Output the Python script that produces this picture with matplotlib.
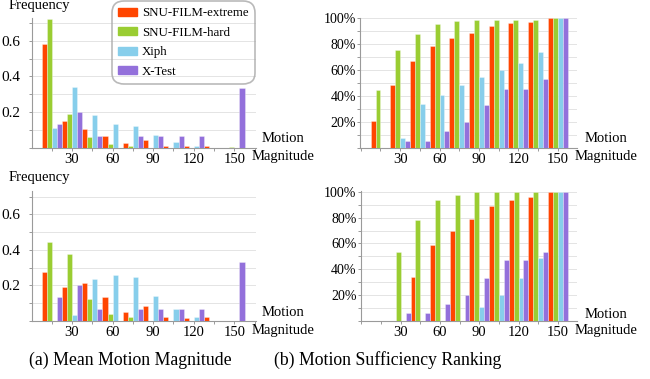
import numpy as np
import matplotlib
matplotlib.use("Agg")
import matplotlib.pyplot as plt
from matplotlib.ticker import MultipleLocator, FuncFormatter

plt.rcParams["font.family"] = ["Liberation Serif", "DejaVu Serif"]

# ---- data
MAG = [15, 30, 45, 60, 75, 90, 105, 120, 135, 150]
SERIES = ["SNU-FILM-extreme", "SNU-FILM-hard", "Xiph", "X-Test"]
COLORS = ["#ff4500", "#9acd32", "#87ceeb", "#9370db"]

# (a) mean motion magnitude, top row
freq_top_ext = [0.58, 0.15, 0.105, 0.067, 0.024, 0.041, 0.011, 0.007, 0.011, 0.0]
freq_top_hard = [0.72, 0.187, 0.062, 0.02, 0.011, 0.0, 0.0, 0.0, 0.0, 0.004]
freq_top_xiph = [0.112, 0.338, 0.183, 0.133, 0.121, 0.071, 0.032, 0.009, 0.0, 0.0]
freq_top_xtest = [0.133, 0.2, 0.065, 0.0, 0.065, 0.065, 0.065, 0.065, 0.0, 0.333]

# (a) mean motion magnitude, bottom row
freq_bot_ext = [0.276, 0.188, 0.21, 0.135, 0.05, 0.083, 0.02, 0.013, 0.02, 0.0]
freq_bot_hard = [0.444, 0.374, 0.12, 0.038, 0.019, 0.0, 0.0, 0.0, 0.0, 0.0]
freq_bot_xiph = [0.0, 0.03, 0.235, 0.26, 0.246, 0.141, 0.066, 0.02, 0.0, 0.0]
freq_bot_xtest = [0.133, 0.2, 0.066, 0.0, 0.066, 0.066, 0.066, 0.066, 0.0, 0.333]

# (b) motion sufficiency ranking [%], top row
rank_top_ext = [21, 49, 67, 79, 85, 89, 94, 96.5, 97.5, 100]
rank_top_hard = [45, 76, 88, 96, 98, 99, 99, 99, 99, 100]
rank_top_xiph = [0, 8, 34, 41, 49, 55, 60, 66, 74, 100]
rank_top_xtest = [0, 6, 6, 13, 20, 33, 46, 46, 53, 100]

# (b) motion sufficiency ranking [%], bottom row
rank_bot_ext = [0, 0, 34, 58.5, 70, 78.7, 89, 93.5, 96, 100]
rank_bot_hard = [0, 53.5, 78, 94, 97.5, 100, 100, 100, 100, 100]
rank_bot_xiph = [0, 0, 0, 0, 0, 11, 20, 33, 49, 100]
rank_bot_xtest = [0, 6.2, 6, 13, 20, 33, 47, 47, 53.5, 100]

W, H = 650, 379
fig = plt.figure(figsize=(W / 100, H / 100), dpi=100)


def px_axes(left, right, top, bottom):
    """Axes from pixel box (origin top-left)."""
    return fig.add_axes([left / W, 1 - bottom / H, (right - left) / W, (bottom - top) / H])


def draw(ax, series, xlim, ylim, major_y, pct):
    x = np.array(MAG, dtype=float)
    w = 15 / 4
    for i, vals in enumerate(series):
        ax.bar(x + (i - 1.5) * w, vals, w, color=COLORS[i],
               edgecolor=(1, 1, 1, 0.35), linewidth=0.6, zorder=3)
    ax.set_xlim(*xlim)
    ax.set_ylim(*ylim)
    ax.xaxis.set_major_locator(MultipleLocator(30))
    ax.xaxis.set_minor_locator(MultipleLocator(15))
    ax.yaxis.set_major_locator(MultipleLocator(major_y))
    ax.yaxis.set_minor_locator(MultipleLocator(major_y / 2))
    if pct:
        ax.yaxis.set_major_formatter(FuncFormatter(lambda v, p: "" if v <= 0 else f"{v:.0f}%"))
    else:
        ax.yaxis.set_major_formatter(FuncFormatter(lambda v, p: "" if v <= 0 else f"{v:.1f}"))
    ax.xaxis.set_major_formatter(FuncFormatter(lambda v, p: "" if v <= 0 else f"{v:.0f}"))
    ax.grid(True, which="both", axis="y", color="#e4e4e4", lw=0.7, zorder=0)
    for s in ("top", "right"):
        ax.spines[s].set_visible(False)
    for s in ("left", "bottom"):
        ax.spines[s].set_color("#9a9a9a")
        ax.spines[s].set_linewidth(0.8)
    ax.tick_params(which="both", colors="#9a9a9a", labelcolor="black", length=2.5, width=0.7)
    ax.tick_params(axis="x", labelsize=10.5, pad=1)
    ax.tick_params(axis="y", labelsize=11 if not pct else 10, pad=6 if not pct else 0.5)


ax1 = px_axes(32, 256, 17.5, 147.7)
draw(ax1, [freq_top_ext, freq_top_hard, freq_top_xiph, freq_top_xtest],
     (0.4, 166), (0, 0.73), 0.2, False)
ax2 = px_axes(360, 577, 17.5, 148.3)
draw(ax2, [rank_top_ext, rank_top_hard, rank_top_xiph, rank_top_xtest],
     (-0.6, 164.7), (0, 100.7), 20, True)
ax3 = px_axes(32, 256, 191.3, 320.7)
draw(ax3, [freq_bot_ext, freq_bot_hard, freq_bot_xiph, freq_bot_xtest],
     (0.4, 166), (0, 0.73), 0.2, False)
ax4 = px_axes(360.7, 577, 191.0, 320.7)
draw(ax4, [rank_bot_ext, rank_bot_hard, rank_bot_xiph, rank_bot_xtest],
     (-0.6, 164.7), (0, 100.7), 20, True)


def ftext(x, y, s, size=10.5, **kw):
    fig.text(x / W, 1 - y / H, s, fontsize=size, ha="center", va="center", **kw)


# axis labels
ftext(39, 5, "Frequency")
ftext(39, 178, "Frequency")
for cx, y1, y2 in [(283, 138, 156.5), (606, 139, 157), (283, 312.7, 330.5), (606, 314, 330.7)]:
    ftext(cx, y1, "Motion")
    ftext(cx, y2, "Magnitude")

# captions
ftext(130, 360, "(a) Mean Motion Magnitude", size=12.8)
ftext(388, 360, "(b) Motion Sufficiency Ranking", size=12.8)

# legend
handles = [plt.Rectangle((0, 0), 1, 1, color=c) for c in COLORS]
leg = fig.legend(handles, SERIES, loc="upper left",
                 bbox_to_anchor=(112 / W, 1 - 1 / H), fontsize=9.3,
                 frameon=True, fancybox=True, handlelength=1.45, handleheight=0.6,
                 handletextpad=0.35, labelspacing=0.58, borderpad=0.5,
                 borderaxespad=0)
fr = leg.get_frame()
fr.set_facecolor("none")
fr.set_edgecolor("#a8a8a8")
fr.set_linewidth(1.2)
fr.set_boxstyle("round,pad=0,rounding_size=0.9")

fig.savefig("out.png", dpi=100)
